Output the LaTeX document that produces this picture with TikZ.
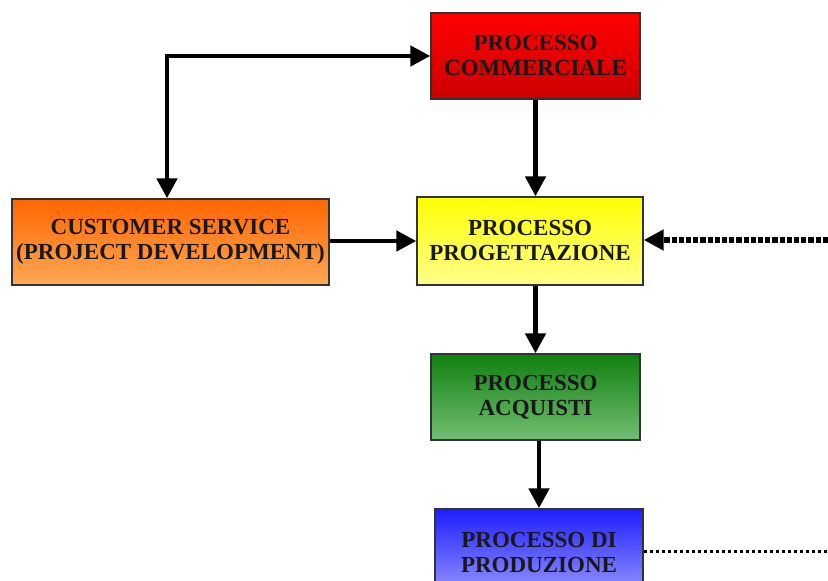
\documentclass[tikz,border=0pt]{standalone}
\usepackage{fontspec}
\setmainfont{Liberation Serif}
\usetikzlibrary{arrows.meta}

\begin{document}
\begin{tikzpicture}[x=0.5pt,y=-0.5pt,line width=2.4pt,>={Triangle[length=10pt,width=10pt]}]
  \tikzstyle{proc}=[draw=black!80,line width=0.7pt,align=center,inner sep=0pt,minimum height=43pt,
    text=black!90,font=\bfseries\fontsize{11.5}{12.5}\selectfont]
  \tikzstyle{feedback}=[line width=2.8pt,dash pattern=on 2.6pt off 1pt]
  \useasboundingbox (0,0) rectangle (828,581);
  \node[proc,minimum width=104.5pt,top color=red,bottom color=red!80!black] (C) at (535.5,56) {PROCESSO\\COMMERCIALE};
  \node[proc,minimum width=158.5pt,top color={rgb,255:red,255;green,102;blue,0},bottom color={rgb,255:red,255;green,168;blue,85}] (S) at (170.5,242) {CUSTOMER SERVICE\\(PROJECT DEVELOPMENT)};
  \node[proc,minimum width=113pt,minimum height=44pt,top color=yellow,bottom color={rgb,255:red,255;green,255;blue,140}] (P) at (530,241) {PROCESSO\\PROGETTAZIONE};
  \node[proc,minimum width=104.5pt,top color={rgb,255:red,16;green,128;blue,16},bottom color={rgb,255:red,115;green,190;blue,115}] (A) at (535.5,397) {PROCESSO\\ACQUISTI};
  \node[proc,minimum width=104pt,top color={rgb,255:red,30;green,30;blue,255},bottom color={rgb,255:red,150;green,150;blue,255}] (D) at (539,552) {PROCESSO DI\\PRODUZIONE};
  \coordinate (R1) at (828,240);
  \coordinate (R2) at (828,551);
  \draw[<->] ([xshift=-1.75pt]S.north) |- (C.west);
  \draw[->] (C.south) -- (C.south |- P.north);
  \draw[->] (S.east |- P.west) -- (P.west);
  \draw[->] (A.north |- P.south) -- (A.north);
  \draw[->] (D.north |- A.south) -- (D.north);
  \draw[->,feedback] (R1) -- (R1 -| P.east);
  \draw[line width=1.5pt,dash pattern=on 1.5pt off 1.5pt] (D.east |- R2) -- (R2);
\end{tikzpicture}
\end{document}
